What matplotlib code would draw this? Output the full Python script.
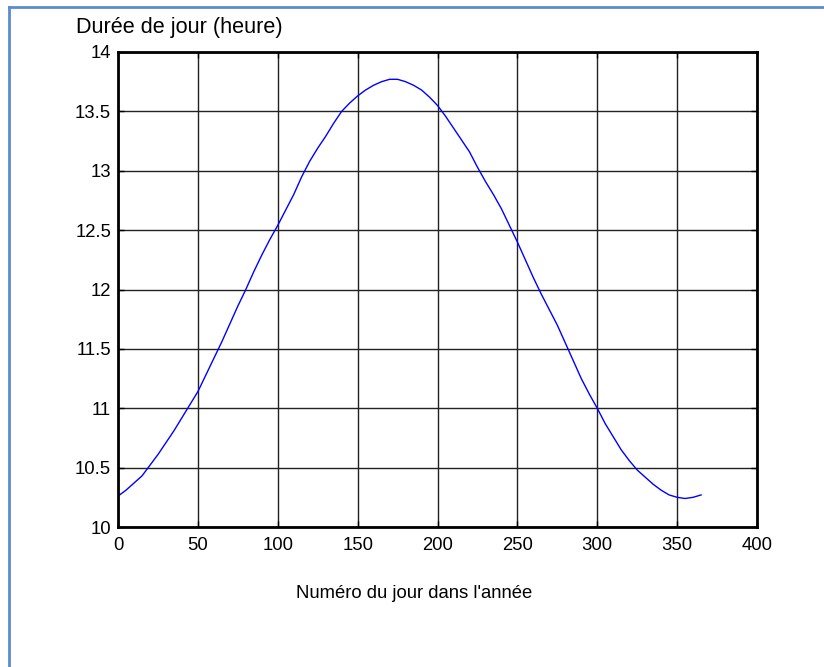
import matplotlib
matplotlib.use("Agg")
from matplotlib import pyplot as plt
from matplotlib.lines import Line2D

# Donnees (tous les 5 jours environ)
jours = [1, 5, 10, 15, 20, 25, 30, 35, 40, 45, 50, 55, 60, 65, 70, 75, 80,
         85, 90, 95, 100, 105, 110, 115, 120, 125, 130, 135, 140, 145, 150,
         155, 160, 165, 170, 175, 180, 185, 190, 195, 200, 205, 210, 215,
         220, 225, 230, 235, 240, 245, 250, 255, 260, 265, 270, 275, 280,
         285, 290, 295, 300, 305, 310, 315, 320, 325, 330, 335, 340, 345,
         350, 355, 360, 365]
duree = [10.27, 10.31, 10.37, 10.43, 10.52, 10.61, 10.71, 10.81, 10.92, 11.03,
         11.14, 11.28, 11.42, 11.56, 11.71, 11.86, 12.00, 12.15, 12.29, 12.42,
         12.54, 12.67, 12.80, 12.95, 13.08, 13.19, 13.29, 13.40, 13.50, 13.57,
         13.63, 13.68, 13.72, 13.75, 13.77, 13.77, 13.75, 13.72, 13.68, 13.62,
         13.55, 13.46, 13.36, 13.26, 13.16, 13.03, 12.91, 12.80, 12.68, 12.54,
         12.40, 12.25, 12.10, 11.96, 11.83, 11.70, 11.55, 11.40, 11.25, 11.12,
         11.00, 10.87, 10.76, 10.65, 10.56, 10.48, 10.42, 10.36, 10.31, 10.27,
         10.25, 10.24, 10.25, 10.27]

xticks = [0, 50, 100, 150, 200, 250, 300, 350, 400]
yticks = [10, 10.5, 11, 11.5, 12, 12.5, 13, 13.5, 14]
ytick_labels = ["10", "10.5", "11", "11.5", "12", "12.5", "13", "13.5", "14"]

plt.rcParams["font.family"] = ["Liberation Sans", "DejaVu Sans"]

W, H = 824, 667
fig = plt.figure(figsize=(W / 100, H / 100), dpi=100)
ax = fig.add_axes([118 / W, 1 - 527 / H, (757 - 118) / W, (527 - 52) / H])

ax.plot(jours, duree, color="#0000ff", lw=1.0)

ax.set_xlim(0, 400)
ax.set_ylim(10, 14)
ax.set_xticks(xticks)
ax.set_yticks(yticks)
ax.set_yticklabels(ytick_labels)
ax.grid(True, color="#222222", lw=1.0)
ax.tick_params(direction="in", length=4, width=1, labelsize=13.3, colors="black",
               top=True, right=True)
ax.tick_params(axis="x", pad=7)
ax.tick_params(axis="y", pad=5)
for s in ax.spines.values():
    s.set_linewidth(2)
    s.set_color("black")

# etiquettes placees comme dans l'original
fig.text(76 / W, 1 - 27 / H, "Durée de jour (heure)", fontsize=15.6,
         ha="left", va="center")
fig.text(414 / W, 1 - 593 / H, "Numéro du jour dans l'année", fontsize=13.3,
         ha="center", va="center")

# cadre bleu
cadre = "#5b8bd0"
fig.add_artist(Line2D([8.5 / W, 8.5 / W], [0, 1 - 6.5 / H], color=cadre, lw=2,
                      transform=fig.transFigure))
fig.add_artist(Line2D([8.5 / W, 1], [1 - 6.5 / H, 1 - 6.5 / H], color=cadre, lw=2,
                      transform=fig.transFigure))

fig.savefig("out.png", dpi=100)
